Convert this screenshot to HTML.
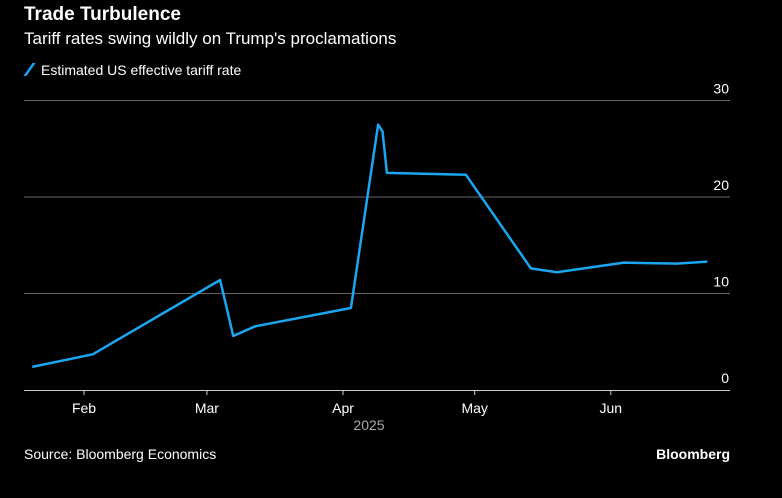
<!DOCTYPE html>
<html><head><meta charset="utf-8"><style>
body{margin:0;background:#000;width:782px;height:498px;overflow:hidden;font-family:"Liberation Sans",sans-serif;color:#fff}
.t{position:absolute;left:24px;top:4px;font-size:19px;font-weight:bold}
.s{position:absolute;left:24px;top:29px;font-size:17px}
.lg{position:absolute;left:24px;top:62px;font-size:14px}
.src{position:absolute;left:24px;top:446px;font-size:14px}
.bb{position:absolute;right:52px;top:446px;font-size:14px;font-weight:bold}
svg{position:absolute;left:0;top:0}
</style></head><body>
<div class="t">Trade Turbulence</div>
<div class="s">Tariff rates swing wildly on Trump's proclamations</div>
<div class="lg"><span style="display:inline-block;width:3px;height:13px;background:#1aa6f0;transform:skewX(-35deg);margin:0 10px 0 4px;vertical-align:-1px"></span>Estimated US effective tariff rate</div>
<div class="src">Source: Bloomberg Economics</div>
<div class="bb">Bloomberg</div>
<svg id="c" width="782" height="498"></svg>
<script>
const days=[19.2,33,62,65,70,91.8,98,99,100,118,132.8,138.7,154,166,173];
const values=[2.4,3.7,11.4,5.6,6.6,8.5,27.5,26.8,22.5,22.3,12.6,12.2,13.2,13.1,13.3];
const yTicks=[0,10,20,30];
const monthLabels=["Feb","Mar","Apr","May","Jun"];
const monthDays=[31,59,90,120,151];
const x=d=>84+(d-31)*4.39;
const y=v=>390-v*9.65;
const svg=document.getElementById('c');
const NS='http://www.w3.org/2000/svg';
function mk(t,a){const e=document.createElementNS(NS,t);for(const k in a)e.setAttribute(k,a[k]);svg.appendChild(e);return e;}
yTicks.forEach(v=>{
 if(v>0){const g=mk('line',{x1:24,x2:730,y1:y(v),y2:y(v),stroke:'#666','stroke-width':1});
 
 }
 const t=mk('text',{x:729,y:y(v)-7,'text-anchor':'end','font-size':14,fill:'#fff'});t.textContent=v;
 
 
});
const base=mk('line',{x1:24,x2:730,y1:390.5,y2:390.5,stroke:'#ccc','stroke-width':1});


monthDays.forEach((d,i)=>{
 const tk=mk('line',{x1:x(d),x2:x(d),y1:390,y2:395,stroke:'#ccc'});
 
 
 const t=mk('text',{x:x(d),y:413,'text-anchor':'middle','font-size':14,fill:'#fff'});t.textContent=monthLabels[i];
 
 
});
const yr=mk('text',{x:369,y:430,'text-anchor':'middle','font-size':14,fill:'#aaa'});yr.textContent='2025';


const p=mk('polyline',{points:days.map((d,i)=>x(d)+','+y(values[i])).join(' '),fill:'none',stroke:'#1aa6f0','stroke-width':2.5,'stroke-linejoin':'round'});


</script>
</body></html>
